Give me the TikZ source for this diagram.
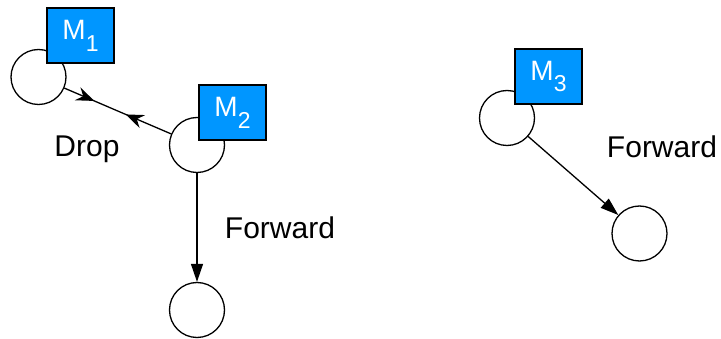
\documentclass[tikz,border=0pt]{standalone}
\usepackage{fontspec}
\setmainfont{Liberation Sans}
\usetikzlibrary{arrows.meta,decorations.markings}
\definecolor{mblue}{RGB}{0,150,255}
\tikzset{
  peer/.style={circle,draw=black,line width=1.3pt,fill=white,minimum size=55pt,inner sep=0pt},
  mbox/.style={rectangle,draw=black,line width=1.3pt,fill=mblue,minimum width=67pt,minimum height=55pt,inner sep=0pt,text=white,font=\fontsize{28}{28}\selectfont},
  lbl/.style={anchor=base,inner sep=0pt,font=\fontsize{30}{30}\selectfont},
  fwd/.style={line width=1.3pt,-{Triangle[length=18pt,width=12pt]}},
  drop/.style={line width=1.3pt,postaction={decorate},decoration={markings,
     mark=at position 0.28 with {\arrow{Stealth[length=18pt,width=14pt,inset=6pt]}},
     mark=at position 0.73 with {\arrow{Stealth[length=18pt,width=14pt,inset=6pt,reversed]}}}}
}
\newcommand{\msub}[1]{M\raisebox{-0.42em}{\fontsize{23}{23}\selectfont #1}}
\begin{document}
\begin{tikzpicture}[x=1pt,y=-1pt]
\useasboundingbox (0,0) rectangle (721,339);
\node[peer] (c1) at (38.5,77) {};
\node[peer] (c2) at (197,145) {};
\node[peer] (c3) at (197,310) {};
\node[peer] (c4) at (507,118) {};
\node[peer] (c5) at (639.5,233.5) {};
\node[mbox] (m1) at (80.5,35.5) {\msub{1}};
\node[mbox] (m2) at (232.5,112.5) {\msub{2}};
\node[mbox] (m3) at (548.5,76.5) {\msub{3}};
\draw[drop] (c1) -- (c2);
\draw[fwd] (c2) -- (c3);
\draw[fwd] (c4) -- (c5);
\node[lbl] (ldrop) at (87,157) {Drop};
\node[lbl] (lf1) at (280,239) {Forward};
\node[lbl] (lf2) at (662,158) {Forward};
\end{tikzpicture}
\end{document}
